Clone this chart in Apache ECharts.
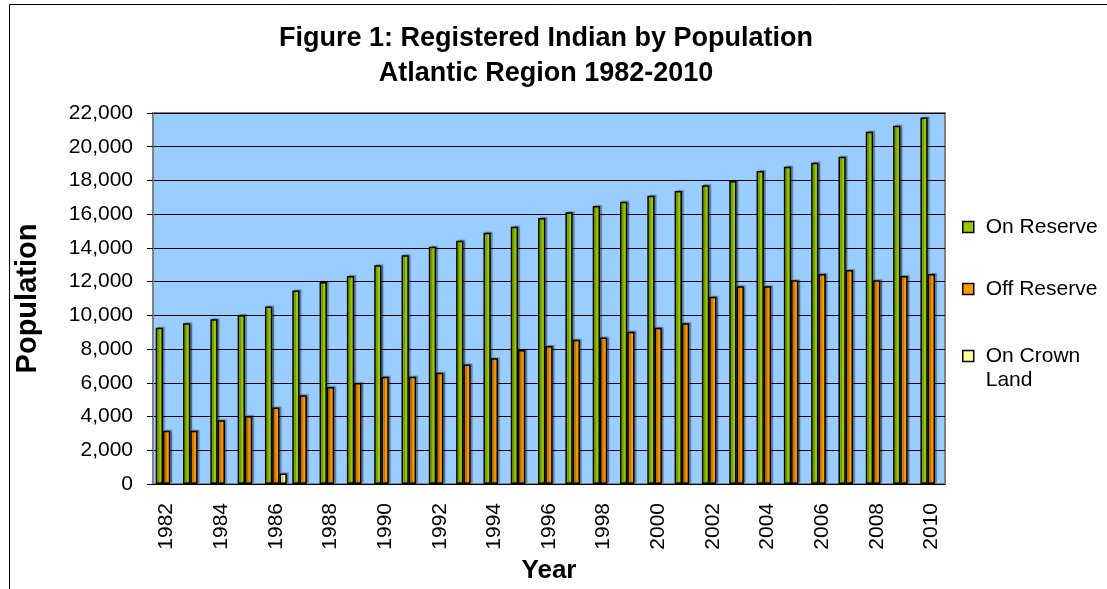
<!DOCTYPE html>
<html>
<head>
<meta charset="utf-8">
<title>Registered Indian by Population</title>
<script src="https://cdn.jsdelivr.net/npm/echarts@6/dist/echarts.min.js"></script>
<style>
    html, body { margin: 0; padding: 0; background: #fff; }
    #chart { width: 1107px; height: 589px; }
</style>
</head>
<body>
<div id="chart"></div>
<script>
// data
const years = ['1982', '1983', '1984', '1985', '1986', '1987', '1988', '1989', '1990', '1991',
    '1992', '1993', '1994', '1995', '1996', '1997', '1998', '1999', '2000', '2001',
    '2002', '2003', '2004', '2005', '2006', '2007', '2008', '2009', '2010']
const onReserve = [9270, 9530, 9770, 10020, 10520, 11480, 11980, 12330, 12970, 13560,
    14070, 14430, 14900, 15260, 15770, 16110, 16490, 16740, 17100, 17380,
    17710, 17970, 18560, 18820, 19050, 19410, 20890, 21250, 21740]
const offReserve = [3160, 3160, 3780, 4030, 4530, 5260, 5750, 5990, 6360, 6360,
    6600, 7080, 7450, 7950, 8180, 8560, 8680, 9030, 9270, 9530,
    11110, 11720, 11720, 12080, 12450, 12690, 12080, 12330, 12450]
const onCrown = [null, null, null, null, 630, null, null, null, null, null,
    null, null, null, null, null, null, null, null, null, null,
    null, null, null, null, null, null, null, null, null]

const FONT = 'Liberation Sans, Arial, sans-serif'

// one bar series; gaps set on every series so the shared layout picks them up
const barSeries = (name, data, color) => ({
    name: name,
    type: 'bar',
    data: data,
    barGap: '0%',
    barCategoryGap: '20%',
    itemStyle: {
        color: color,
        borderColor: '#000',
        borderWidth: 1.5,
        shadowColor: 'rgba(0,0,0,0.3)',
        shadowOffsetX: 2,
        shadowOffsetY: -1,
        shadowBlur: 1
    }
})

const legendBase = {
    orient: 'vertical',
    left: 962,
    padding: 0,
    icon: 'rect',
    itemWidth: 11,
    itemHeight: 11,
    itemGap: 38,
    itemStyle: { borderColor: '#000', borderWidth: 1.5 },
    textStyle: { color: '#000', fontSize: 21, fontFamily: FONT, lineHeight: 24, padding: [0, 0, 0, 7] }
}

const chart = echarts.init(document.getElementById('chart'))

chart.setOption({
    animation: false,
    textStyle: { fontFamily: FONT },
    title: {
        text: 'Figure 1: Registered Indian by Population\nAtlantic Region 1982-2010',
        left: 546,
        top: 21,
        padding: 0,
        textAlign: 'center',
        textStyle: { color: '#000', fontSize: 27, fontWeight: 'bold', fontFamily: FONT, lineHeight: 35 }
    },
    legend: [
        Object.assign({}, legendBase, { top: 215, data: ['On Reserve', 'Off Reserve'] }),
        // empty first line keeps "On Crown" level with the swatch, "Land" below it
        Object.assign({}, legendBase, {
            top: 320,
            data: ['On Crown Land'],
            formatter: () => ' \nOn Crown\nLand'
        })
    ],
    graphic: [{
        type: 'rect',
        shape: { x: 9.5, y: 4.5, width: 1200, height: 700 },
        style: { fill: 'none', stroke: '#000', lineWidth: 1 },
        silent: true
    }],
    grid: {
        left: 153,
        top: 113,
        right: 162,
        bottom: 105,
        show: true,
        backgroundColor: '#99CCFF',
        borderColor: '#808080',
        borderWidth: 2
    },
    xAxis: {
        type: 'category',
        data: years,
        name: 'Year',
        nameLocation: 'middle',
        nameGap: 68,
        nameTextStyle: { color: '#000', fontSize: 26, fontWeight: 'bold', fontFamily: FONT },
        axisLine: { lineStyle: { color: '#000', width: 1 } },
        axisTick: { interval: 0, length: 6, lineStyle: { color: '#808080' } },
        axisLabel: { interval: 1, rotate: 90, margin: 19, color: '#000', fontSize: 21, fontFamily: FONT }
    },
    yAxis: {
        type: 'value',
        min: 0,
        max: 22000,
        interval: 2000,
        name: 'Population',
        nameLocation: 'middle',
        nameGap: 111,
        nameTextStyle: { color: '#000', fontSize: 29, fontWeight: 'bold', fontFamily: FONT },
        axisLine: { show: true, lineStyle: { color: '#808080', width: 2 } },
        axisTick: { show: true, length: 6, lineStyle: { color: '#000' } },
        axisLabel: {
            margin: 20,
            color: '#000',
            fontSize: 21,
            fontFamily: FONT,
            formatter: v => v.toLocaleString('en-US')
        },
        splitLine: { lineStyle: { color: '#000', width: 1 } }
    },
    series: [
        barSeries('On Reserve', onReserve, '#99CC00'),
        barSeries('Off Reserve', offReserve, '#FF9900'),
        barSeries('On Crown Land', onCrown, '#FFFF99')
    ]
})

window.addEventListener('resize', () => chart.resize())
</script>
</body>
</html>
